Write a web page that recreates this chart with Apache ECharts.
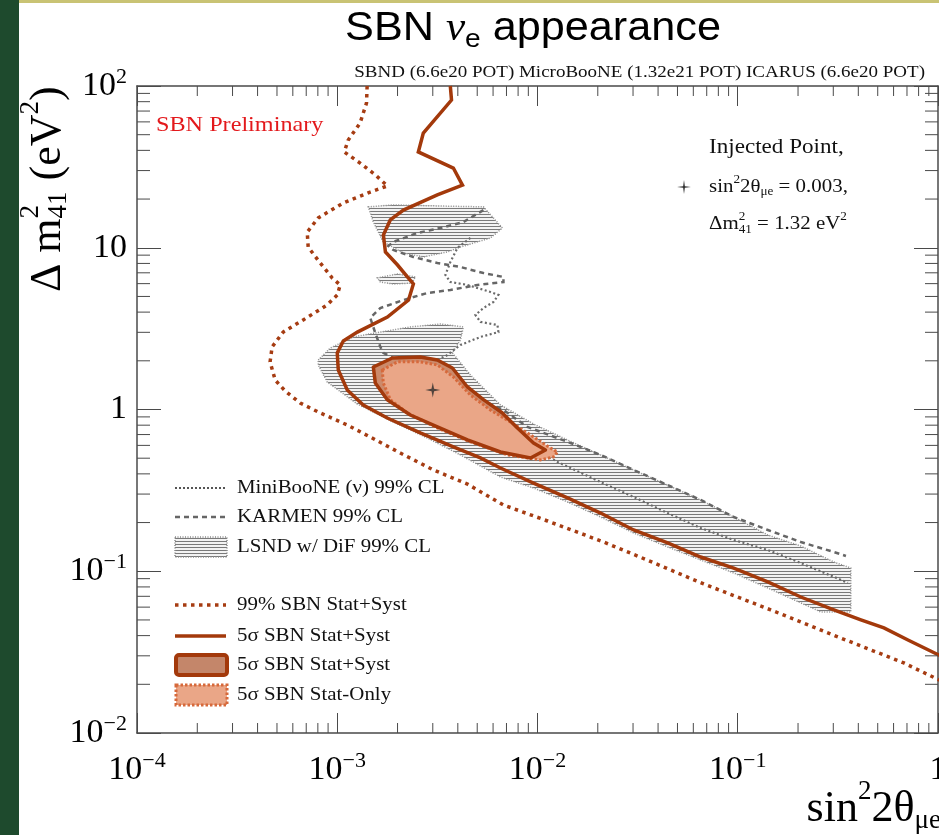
<!DOCTYPE html>
<html>
<head>
<meta charset="utf-8">
<script src="https://cdn.jsdelivr.net/npm/echarts@6/dist/echarts.min.js"></script>
<style>
  html, body { margin: 0; padding: 0; background: #ffffff; }
  #chart { width: 939px; height: 835px; }
</style>
</head>
<body>
<div id="chart"></div>
<script>
// ---------- axis decades ----------
const xTicks = [1e-4, 1e-3, 1e-2, 1e-1, 1];
const yTicks = [1e-2, 1e-1, 1, 10, 100];

// ---------- curves: [sin^2 2theta_mue, dm^2_41 (eV^2)] ----------
// 99% CL SBN sensitivity, stat+syst
const sbn99 = [
  [1.41e-3, 100], [1.40e-3, 78.5], [1.30e-3, 59.0], [1.135e-3, 46.4], [1.084e-3, 39.1],
  [1.30e-3, 33.4], [1.55e-3, 28.2], [1.78e-3, 24.1], [1.46e-3, 22.1], [1.07e-3, 18.9],
  [8.04e-4, 15.3], [7.08e-4, 12.5], [7.16e-4, 10.1], [8.22e-4, 8.05], [9.44e-4, 6.50],
  [1.035e-3, 5.89], [1.0e-3, 5.11], [8.91e-4, 4.43], [6.76e-4, 3.58], [5.37e-4, 3.01],
  [4.73e-4, 2.44], [4.62e-4, 1.97], [4.90e-4, 1.52], [5.50e-4, 1.30], [6.53e-4, 1.097],
  [8.22e-4, 0.952], [1.122e-3, 0.802], [1.462e-3, 0.676], [2.065e-3, 0.538], [3.02e-3, 0.423],
  [4.467e-3, 0.346], [6.76e-3, 0.257], [1.122e-2, 0.2045], [2.14e-2, 0.1516], [3.16e-2, 0.1242],
  [6.76e-2, 0.0835], [0.146, 0.0577], [0.316, 0.0393], [0.676, 0.0271], [1.035, 0.0210]
];
// 5 sigma SBN sensitivity, stat+syst
const sbn5s = [
  [3.67e-3, 100], [3.72e-3, 81.9], [2.69e-3, 51.2], [2.54e-3, 39.1], [3.80e-3, 31.1],
  [4.22e-3, 24.4], [3.16e-3, 21.2], [2.14e-3, 17.1], [1.84e-3, 14.85], [1.70e-3, 12.0],
  [1.74e-3, 9.42], [2.0e-3, 7.82], [2.24e-3, 6.60], [2.40e-3, 5.97], [2.27e-3, 4.75],
  [1.78e-3, 3.73], [1.26e-3, 3.01], [1.072e-3, 2.65], [1.0e-3, 2.24], [1.012e-3, 1.755],
  [1.122e-3, 1.32], [1.349e-3, 1.067], [1.778e-3, 0.886], [2.60e-3, 0.716], [3.80e-3, 0.587],
  [5.19e-3, 0.502], [6.53e-3, 0.435], [9.55e-3, 0.351], [1.413e-2, 0.284], [2.065e-2, 0.229],
  [3.02e-2, 0.180], [4.467e-2, 0.1496], [6.53e-2, 0.1225], [9.55e-2, 0.1047], [0.1413, 0.0859],
  [0.2065, 0.0693], [0.302, 0.0577], [0.412, 0.050], [0.537, 0.0446], [0.708, 0.0376], [1.035, 0.0299]
];
// 5 sigma allowed region around the injected point, stat+syst
const region5sSyst = [
  [1.514e-3, 1.832], [1.884e-3, 2.082], [2.60e-3, 2.112], [3.162e-3, 2.024], [3.758e-3, 1.805],
  [4.467e-3, 1.378], [5.37e-3, 1.15], [6.68e-3, 0.952], [7.94e-3, 0.769], [9.55e-3, 0.621],
  [1.096e-2, 0.562], [9.23e-3, 0.5015], [6.53e-3, 0.546], [4.467e-3, 0.648], [3.162e-3, 0.780],
  [2.317e-3, 0.925], [1.778e-3, 1.15], [1.549e-3, 1.46]
];
// 5 sigma allowed region, stat only
const region5sStat = [
  [1.679e-3, 1.755], [1.995e-3, 1.97], [2.60e-3, 1.97], [3.162e-3, 1.884], [3.802e-3, 1.589],
  [4.624e-3, 1.229], [5.82e-3, 0.993], [7.33e-3, 0.837], [9.23e-3, 0.696], [1.161e-2, 0.578],
  [1.259e-2, 0.546], [1.202e-2, 0.509], [1.035e-2, 0.488], [7.08e-3, 0.524], [4.624e-3, 0.631],
  [3.162e-3, 0.769], [2.239e-3, 0.952], [1.841e-3, 1.15], [1.698e-3, 1.46]
];
// LSND w/ DiF 99% CL allowed islands
const lsndUpper = [
  [1.429e-3, 17.9], [1.905e-3, 18.4], [3.388e-3, 18.1], [5.37e-3, 17.9], [6.68e-3, 13.25],
  [5.82e-3, 11.49], [4.121e-3, 10.1], [3.548e-3, 9.42], [2.692e-3, 8.77], [2.138e-3, 9.28],
  [1.698e-3, 10.86], [1.514e-3, 14.43]
];
const lsndIsland = [
  [1.585e-3, 6.50], [1.995e-3, 6.88], [2.455e-3, 6.60], [2.371e-3, 6.05], [1.905e-3, 5.97], [1.641e-3, 6.14]
];
const lsndMain = [
  [8.04e-4, 2.024], [9.23e-4, 2.40], [1.202e-3, 2.81], [1.641e-3, 3.01], [2.317e-3, 3.24],
  [3.273e-3, 3.38], [4.266e-3, 3.24], [4.121e-3, 2.69], [3.758e-3, 2.24], [4.624e-3, 1.634],
  [6.53e-3, 1.067], [9.55e-3, 0.814], [1.413e-2, 0.648], [2.065e-2, 0.524], [3.02e-2, 0.423],
  [4.467e-2, 0.341], [6.53e-2, 0.276], [9.55e-2, 0.2165], [0.1413, 0.1675], [0.2065, 0.1432],
  [0.302, 0.114], [0.367, 0.1047], [0.367, 0.056], [0.260, 0.056], [0.2065, 0.0637],
  [0.1413, 0.0788], [9.55e-2, 0.0975], [6.53e-2, 0.1174], [4.467e-2, 0.1413], [3.02e-2, 0.1724],
  [2.065e-2, 0.2165], [1.413e-2, 0.268], [9.55e-3, 0.327], [6.53e-3, 0.3826], [4.121e-3, 0.524],
  [2.818e-3, 0.666], [1.905e-3, 0.837], [1.259e-3, 1.081], [8.91e-4, 1.48], [8.04e-4, 1.884]
];
// KARMEN 99% CL
const karmen = [
  [5.37e-3, 17.1], [4.266e-3, 14.43], [3.273e-3, 13.25], [2.512e-3, 12.34], [1.905e-3, 10.86],
  [1.799e-3, 10.26], [1.905e-3, 9.69], [2.399e-3, 8.77], [3.162e-3, 8.05], [4.121e-3, 7.60],
  [5.37e-3, 6.98], [6.76e-3, 6.60], [6.76e-3, 6.14], [5.01e-3, 5.89], [3.673e-3, 5.48],
  [2.818e-3, 5.25], [2.138e-3, 4.75], [1.641e-3, 4.24], [1.462e-3, 3.68], [1.549e-3, 2.97],
  [1.641e-3, 2.44], [1.698e-3, 2.24], [2.60e-3, 1.706], [4.121e-3, 1.32], [6.76e-3, 0.993],
  [8.91e-3, 0.780], [1.413e-2, 0.631], [2.065e-2, 0.524], [3.02e-2, 0.423], [4.467e-2, 0.341],
  [6.53e-2, 0.276], [9.55e-2, 0.2165], [0.1413, 0.180], [0.2065, 0.1516], [0.302, 0.1315], [0.347, 0.1242]
];
// MiniBooNE (nu) 99% CL
const miniboone = [
  [4.624e-3, 11.49], [3.981e-3, 9.97], [3.673e-3, 8.17], [3.467e-3, 6.79], [3.673e-3, 6.14],
  [4.467e-3, 5.89], [5.82e-3, 5.33], [6.38e-3, 5.11], [6.03e-3, 4.62], [5.37e-3, 4.24],
  [4.898e-3, 3.84], [5.19e-3, 3.48], [6.31e-3, 3.33], [6.38e-3, 3.01], [5.19e-3, 2.81],
  [4.121e-3, 2.505], [3.548e-3, 2.17], [3.02e-3, 1.97], [5.19e-3, 0.993], [8.22e-3, 0.648],
  [1.259e-2, 0.474], [2.065e-2, 0.356], [3.02e-2, 0.288], [4.467e-2, 0.229], [6.53e-2, 0.185],
  [9.55e-2, 0.156], [0.1413, 0.1353], [0.2065, 0.1125], [0.302, 0.0923], [0.355, 0.0848]
];
// injected oscillation point
const injected = [[0.003, 1.32]];

// ---------- styling ----------
const SERIF = 'Liberation Serif';
const SANS = 'Liberation Sans';
const RUST = '#a3390b';
const RUST_DOT = '#a63c12';
const STAT_EDGE = '#d6693b';
const SYST_FILL = '#cc8a6b';
const STAT_FILL = '#eaa687';
const AXIS = '#4a4a4a';
const STAR_PATH = 'path://M0,-10 L1.7,-1.7 L10,0 L1.7,1.7 L0,10 L-1.7,1.7 L-10,0 L-1.7,-1.7 Z';

// horizontal hatch used for the LSND regions
const hatch = (function () {
  const c = document.createElement('canvas');
  c.width = 8; c.height = 3;
  const g = c.getContext('2d');
  g.fillStyle = '#f3f3f3';
  g.fillRect(0, 0, 8, 3);
  g.fillStyle = '#7a7a7a';
  g.fillRect(0, 1, 8, 1);
  return c;
})();
const hatchFill = { image: hatch, repeat: 'repeat' };

// minor log ticks 2..9 within each decade
function minorTicks(decades) {
  const out = [];
  for (let i = 0; i < decades.length - 1; i++) {
    for (let m = 2; m <= 9; m++) out.push(m * decades[i]);
  }
  return out;
}
const xMinor = minorTicks(xTicks);
const yMinor = minorTicks(yTicks);

function decadeLabel(v) {
  const e = Math.round(Math.log10(v));
  if (e === 0) return '{b|1}';
  if (e === 1) return '{b|10}';
  return '{b|10}{s|' + (e < 0 ? '\u2212' : '') + Math.abs(e) + '}';
}
const tickRich = {
  b: { fontFamily: SERIF, fontSize: 34, lineHeight: 40, verticalAlign: 'middle', color: '#000' },
  s: { fontFamily: SERIF, fontSize: 22, lineHeight: 22, verticalAlign: 'top', color: '#000' }
};

// closed polygon drawn through the cartesian axes
function polygonSeries(name, pts, style, z) {
  return {
    name: name, type: 'custom', coordinateSystem: 'cartesian2d',
    data: pts, z: z, clip: true, silent: true,
    renderItem: function (params, api) {
      if (params.dataIndex !== 0) return null;
      return {
        type: 'polygon',
        shape: { points: pts.map(function (p) { return api.coord(p); }) },
        style: Object.assign({}, style)
      };
    }
  };
}
function curveSeries(name, pts, color, width, dash, z) {
  return {
    name: name, type: 'line', data: pts, z: z, clip: true, silent: true,
    showSymbol: false, symbol: 'none', smooth: false,
    lineStyle: { color: color, width: width, type: dash || 'solid', cap: 'butt', join: 'miter' }
  };
}
function minorTickSeries(values, isX) {
  return {
    type: 'custom', coordinateSystem: 'cartesian2d', clip: false, silent: true, z: 9,
    data: values.map(function (v) { return isX ? [v, 1] : [1e-2, v]; }),
    renderItem: function (params, api) {
      const cs = params.coordSys;
      const st = { stroke: AXIS, lineWidth: 1 };
      if (isX) {
        const px = api.coord([api.value(0), 1])[0];
        const b = cs.y + cs.height;
        return { type: 'group', children: [
          { type: 'line', shape: { x1: px, y1: b, x2: px, y2: b - 10 }, style: st },
          { type: 'line', shape: { x1: px, y1: cs.y, x2: px, y2: cs.y + 10 }, style: st }
        ] };
      }
      const py = api.coord([1e-2, api.value(1)])[1];
      const r = cs.x + cs.width;
      return { type: 'group', children: [
        { type: 'line', shape: { x1: cs.x, y1: py, x2: cs.x + 13, y2: py }, style: st },
        { type: 'line', shape: { x1: r, y1: py, x2: r - 13, y2: py }, style: st }
      ] };
    }
  };
}

// ---------- text helpers ----------
const mctx = document.createElement('canvas').getContext('2d');
function textWidth(t, size, family, italic) {
  mctx.font = (italic ? 'italic ' : '') + size + 'px "' + family + '"';
  return mctx.measureText(t).width;
}
// left-to-right run of text pieces; a piece with stack:true does not advance the pen
function textRun(pieces, family, fill) {
  let x = 0, held = 0;
  const kids = [];
  pieces.forEach(function (p) {
    const fam = p.family || family;
    const w = textWidth(p.t, p.size, fam, p.italic);
    kids.push({
      type: 'text', x: x, y: p.dy || 0,
      style: {
        text: p.t, fontSize: p.size, fontFamily: fam, fontStyle: p.italic ? 'italic' : 'normal',
        fill: p.fill || fill, textAlign: 'left', textVerticalAlign: 'middle',
        align: 'left', verticalAlign: 'middle'
      }
    });
    if (p.stack) { held = Math.max(held, w); }
    else { x += Math.max(w, held); held = 0; }
  });
  return { children: kids, width: x };
}
function plainText(t, x, y, size, opts) {
  opts = opts || {};
  return {
    type: 'text', x: x, y: y, scaleX: opts.sx || 1, z: 20,
    style: {
      text: t, fontSize: size, fontFamily: opts.family || SERIF, fill: opts.fill || '#111',
      textAlign: opts.align || 'left', align: opts.align || 'left',
      textVerticalAlign: 'middle', verticalAlign: 'middle'
    }
  };
}

// ---------- composite labels ----------
const SX = 1.1;
const titleRun = textRun([
  { t: 'SBN ', size: 40 },
  { t: '\u03BD', size: 40, italic: true, family: SERIF },
  { t: 'e', size: 26, dy: 11 },
  { t: ' appearance', size: 40 }
], SANS, '#000');
const yTitleRun = textRun([
  { t: '\u0394 m', size: 44 },
  { t: '2', size: 27, dy: -17, stack: true },
  { t: '41', size: 27, dy: 11 },
  { t: ' (eV', size: 44 },
  { t: '2', size: 27, dy: -17 },
  { t: ')', size: 44 }
], SERIF, '#000');
const xTitleRun = textRun([
  { t: 'sin', size: 44 },
  { t: '2', size: 27, dy: -17 },
  { t: '2\u03B8', size: 44 },
  { t: '\u03BCe', size: 27, dy: 12 }
], SERIF, '#000');
const injLine2 = textRun([
  { t: 'sin', size: 19 },
  { t: '2', size: 12, dy: -7 },
  { t: '2\u03B8', size: 19 },
  { t: '\u03BCe', size: 12, dy: 5 },
  { t: ' = 0.003,', size: 19 }
], SERIF, '#111');
const injLine3 = textRun([
  { t: '\u0394m', size: 19 },
  { t: '2', size: 12, dy: -7, stack: true },
  { t: '41', size: 12, dy: 6 },
  { t: ' = 1.32 eV', size: 19 },
  { t: '2', size: 12, dy: -7 }
], SERIF, '#111');

function starPoints(cx, cy, r, k) {
  const pts = [];
  for (let i = 0; i < 8; i++) {
    const a = i * Math.PI / 4 - Math.PI / 2;
    const rr = i % 2 === 0 ? r : r * k;
    pts.push([cx + rr * Math.cos(a), cy + rr * Math.sin(a)]);
  }
  return pts;
}

// ---------- legend ----------
const LX0 = 175, LX1 = 226, LTX = 237;
const legendRows = [
  { y: 488, label: 'MiniBooNE (\u03BD) 99% CL', kind: 'line', color: '#555', width: 2, dash: [2, 2] },
  { y: 517, label: 'KARMEN 99% CL', kind: 'line', color: '#666', width: 2.5, dash: [5, 4] },
  { y: 547, label: 'LSND w/ DiF 99% CL', kind: 'lsnd' },
  { y: 605, label: '99% SBN Stat+Syst', kind: 'line', color: RUST_DOT, width: 3.5, dash: [3.5, 4.5] },
  { y: 636, label: '5\u03C3 SBN Stat+Syst', kind: 'line', color: RUST, width: 3.5 },
  { y: 665, label: '5\u03C3 SBN Stat+Syst', kind: 'syst' },
  { y: 695, label: '5\u03C3 SBN Stat-Only', kind: 'stat' }
];
const legendGraphics = [];
legendRows.forEach(function (r) {
  if (r.kind === 'line') {
    legendGraphics.push({ type: 'line', z: 20, shape: { x1: LX0, y1: r.y, x2: LX1, y2: r.y },
      style: { stroke: r.color, lineWidth: r.width, lineDash: r.dash || null, lineCap: 'butt' } });
  } else if (r.kind === 'lsnd') {
    legendGraphics.push({ type: 'rect', z: 20, shape: { x: LX0, y: r.y - 10, width: LX1 - LX0 + 1, height: 20 },
      style: { fill: hatchFill, stroke: '#8a8a8a', lineWidth: 1.5, lineDash: [1, 1.5] } });
  } else if (r.kind === 'syst') {
    legendGraphics.push({ type: 'rect', z: 20, shape: { x: LX0 + 1, y: r.y - 10, width: LX1 - LX0, height: 20, r: 3 },
      style: { fill: '#c4866a', stroke: RUST, lineWidth: 4 } });
  } else {
    legendGraphics.push({ type: 'rect', z: 20, shape: { x: LX0 + 1, y: r.y - 10, width: LX1 - LX0, height: 20 },
      style: { fill: STAT_FILL, stroke: STAT_EDGE, lineWidth: 3, lineDash: [2.5, 2] } });
  }
  legendGraphics.push(plainText(r.label, LTX, r.y, 19, { sx: SX }));
});

// ---------- chart ----------
const chart = echarts.init(document.getElementById('chart'), null, { renderer: 'canvas' });

const logAxisBase = {
  type: 'log', logBase: 10,
  axisLine: { show: true, lineStyle: { color: AXIS, width: 1.5 } },
  splitLine: { show: false },
  minorTick: { show: false }
};

chart.setOption({
  animation: false,
  backgroundColor: '#ffffff',
  grid: { left: 137, top: 86, width: 801, height: 647, containLabel: false, outerBoundsMode: 'none' },
  xAxis: [
    Object.assign({}, logAxisBase, {
      position: 'bottom', min: xTicks[0], max: xTicks[xTicks.length - 1],
      axisTick: { show: true, inside: true, length: 20, lineStyle: { color: AXIS, width: 1 } },
      axisLabel: { show: true, margin: 17, formatter: decadeLabel, rich: tickRich, hideOverlap: false }
    }),
    Object.assign({}, logAxisBase, {
      position: 'top', min: xTicks[0], max: xTicks[xTicks.length - 1],
      axisTick: { show: true, inside: true, length: 20, lineStyle: { color: AXIS, width: 1 } },
      axisLabel: { show: false }
    })
  ],
  yAxis: [
    Object.assign({}, logAxisBase, {
      position: 'left', min: yTicks[0], max: yTicks[yTicks.length - 1],
      axisTick: { show: true, inside: true, length: 24, lineStyle: { color: AXIS, width: 1 } },
      axisLabel: { show: true, margin: 10, formatter: decadeLabel, rich: tickRich, hideOverlap: false }
    }),
    Object.assign({}, logAxisBase, {
      position: 'right', min: yTicks[0], max: yTicks[yTicks.length - 1],
      axisTick: { show: true, inside: true, length: 24, lineStyle: { color: AXIS, width: 1 } },
      axisLabel: { show: false }
    })
  ],
  series: [
    polygonSeries('LSND upper', lsndUpper, { fill: hatchFill, stroke: '#8f8f8f', lineWidth: 1.5, lineDash: [1, 1.5] }, 2),
    polygonSeries('LSND island', lsndIsland, { fill: hatchFill, stroke: '#8f8f8f', lineWidth: 1.5, lineDash: [1, 1.5] }, 2),
    polygonSeries('LSND w/ DiF 99% CL', lsndMain, { fill: hatchFill, stroke: '#8f8f8f', lineWidth: 1.5, lineDash: [1, 1.5] }, 2),
    curveSeries('MiniBooNE (\u03BD) 99% CL', miniboone, '#6a6a6a', 2.2, [2, 2.5], 3),
    curveSeries('KARMEN 99% CL', karmen, '#666666', 2.5, [5, 4], 3),
    curveSeries('99% SBN Stat+Syst', sbn99, RUST_DOT, 3.5, [3.5, 4.5], 4),
    curveSeries('5\u03C3 SBN Stat+Syst', sbn5s, RUST, 3.5, 'solid', 4),
    polygonSeries('5\u03C3 region fill', region5sSyst, { fill: SYST_FILL }, 5),
    polygonSeries('5\u03C3 SBN Stat-Only', region5sStat, { fill: STAT_FILL, stroke: STAT_EDGE, lineWidth: 3, lineDash: [2.5, 2] }, 6),
    polygonSeries('5\u03C3 region edge', region5sSyst, { fill: 'none', stroke: RUST, lineWidth: 3.5, lineJoin: 'round' }, 7),
    {
      name: 'Injected Point', type: 'scatter', data: injected, z: 8, silent: true,
      symbol: STAR_PATH, symbolSize: 15, itemStyle: { color: '#2b2b2b' }
    },
    minorTickSeries(xMinor, true),
    minorTickSeries(yMinor, false)
  ],
  graphic: [
    { type: 'rect', z: 30, shape: { x: 0, y: 0, width: 19, height: 835 }, style: { fill: '#1e4a2d' } },
    { type: 'rect', z: 30, shape: { x: 19, y: 0, width: 920, height: 3 }, style: { fill: '#c9c374' } },
    { type: 'group', z: 20, x: 533 - titleRun.width * 1.08 / 2, y: 29, scaleX: 1.08, children: titleRun.children },
    plainText('SBND (6.6e20 POT) MicroBooNE (1.32e21 POT) ICARUS (6.6e20 POT)', 925, 72, 17.3, { align: 'right', sx: SX }),
    plainText('SBN Preliminary', 156, 125, 22, { fill: '#e3191c', sx: SX }),
    plainText('Injected Point,', 709, 147, 21, { sx: SX }),
    { type: 'group', z: 20, x: 709, y: 187, scaleX: SX, children: injLine2.children },
    { type: 'group', z: 20, x: 709, y: 224, scaleX: SX, children: injLine3.children },
    { type: 'polygon', z: 20, shape: { points: starPoints(684, 187, 7, 0.17) }, style: { fill: '#2b2b2b' } },
    { type: 'group', z: 20, x: 48, y: 292, rotation: Math.PI / 2, children: yTitleRun.children },
    { type: 'group', z: 20, x: 941 - xTitleRun.width, y: 809, children: xTitleRun.children }
  ].concat(legendGraphics)
});
</script>
</body>
</html>
